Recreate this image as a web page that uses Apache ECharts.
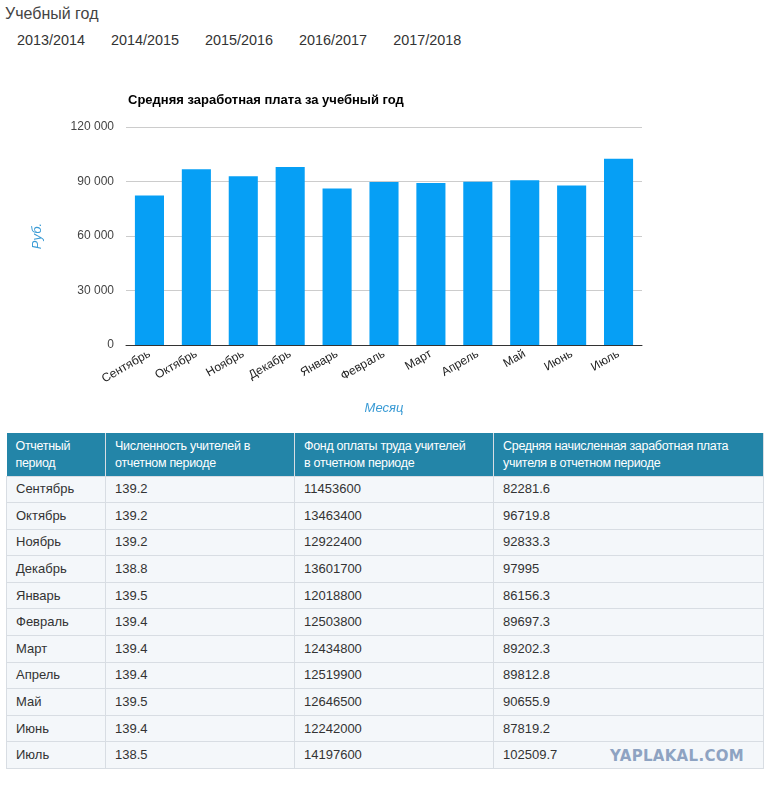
<!DOCTYPE html>
<html><head><meta charset="utf-8">
<script src="https://cdn.jsdelivr.net/npm/echarts@6/dist/echarts.min.js"></script>
<style>
html,body{margin:0;padding:0;background:#fff;font-family:"Liberation Sans",Arial,sans-serif;}
#page{position:relative;width:773px;height:786px;overflow:hidden;}
#hdr{position:absolute;left:5px;top:5px;font-size:16px;color:#444;}
#tabs{position:absolute;left:17px;top:32px;font-size:14.4px;color:#333;white-space:nowrap;}
#tabs span{display:inline-block;margin-right:26px;}
#chart{position:absolute;left:0;top:60px;width:773px;height:360px;}
table{position:absolute;left:6px;top:433px;width:757px;border-collapse:collapse;table-layout:fixed;}
th{background:#2385a8;color:#fff;font-family:"Liberation Sans",Arial,sans-serif;font-weight:normal;font-size:12.5px;letter-spacing:-0.3px;text-align:left;vertical-align:top;padding:5px 6px 0 9px;height:38px;line-height:17px;white-space:nowrap;border-right:1px solid #d8dde3;box-sizing:border-box;}
td{background:#f4f7fa;color:#333;font-size:13px;padding:0 9px 0 9px;height:26.6px;line-height:14px;border:1px solid #d8dde3;box-sizing:border-box;}
#wm{position:absolute;left:606px;top:747px;font-family:"DejaVu Sans",Arial,sans-serif;font-weight:bold;font-size:15px;color:#8ea3c2;letter-spacing:0.3px;background:#f4f7fa;padding:0 4px;}
</style></head>
<body><div id="page">
<div id="hdr">Учебный год</div>
<div id="tabs"></div>
<div id="chart"></div>
<table id="tbl"></table>
<div id="wm">YAPLAKAL.COM</div>
</div>
<script>
const years = ['2013/2014','2014/2015','2015/2016','2016/2017','2017/2018'];
const months = ['Сентябрь','Октябрь','Ноябрь','Декабрь','Январь','Февраль','Март','Апрель','Май','Июнь','Июль'];
const teachers = ['139.2','139.2','139.2','138.8','139.5','139.4','139.4','139.4','139.5','139.4','138.5'];
const fund = ['11453600','13463400','12922400','13601700','12018800','12503800','12434800','12519900','12646500','12242000','14197600'];
const avgSalary = [82281.6, 96719.8, 92833.3, 97995, 86156.3, 89697.3, 89202.3, 89812.8, 90655.9, 87819.2, 102509.7];
const headerLines = [['Отчетный','период'],['Численность учителей в','отчетном периоде'],['Фонд оплаты труда учителей','в отчетном периоде'],['Средняя начисленная заработная плата','учителя в отчетном периоде']];
const colWidths = [99,189,199,270];

document.getElementById('tabs').innerHTML = years.map(y=>'<span>'+y+'</span>').join('');
let html = '<colgroup>'+colWidths.map(w=>'<col style="width:'+w+'px">').join('')+'</colgroup><tr style="height:43px">'+headerLines.map(h=>'<th>'+h.join('<br>')+'</th>').join('')+'</tr>';
months.forEach((m,i)=>{ html += '<tr><td>'+m+'</td><td>'+teachers[i]+'</td><td>'+fund[i]+'</td><td>'+avgSalary[i]+'</td></tr>'; });
document.getElementById('tbl').innerHTML = html;

const chart = echarts.init(document.getElementById('chart'));
chart.setOption({
  animation:false,
  textStyle:{fontFamily:'"Liberation Sans", Arial, sans-serif'},
  title:{text:'Средняя заработная плата за учебный год',left:123,top:29,textStyle:{fontSize:13,fontWeight:'bold',color:'#000'}},
  grid:{left:126,right:131,top:67,bottom:70},
  xAxis:{type:'category',data:months,
    axisLine:{lineStyle:{color:'#333'}},axisTick:{show:false},
    axisLabel:{rotate:30,fontSize:12,color:'#222',margin:8,interval:0},
    name:'Месяц',nameLocation:'middle',nameGap:57,
    nameTextStyle:{color:'#3a9bd5',fontStyle:'italic',fontSize:13}},
  yAxis:{type:'value',min:0,max:120000,interval:30000,
    axisLine:{show:false},axisTick:{show:false},
    axisLabel:{fontSize:12,color:'#444',margin:12,formatter:v=>String(v).replace(/\B(?=(\d{3})+(?!\d))/g,' ')},
    splitLine:{lineStyle:{color:'#ccc'}},
    name:'Руб.',nameLocation:'middle',nameGap:82,nameRotate:90,
    nameTextStyle:{color:'#3a9bd5',fontStyle:'italic',fontSize:13}},
  series:[{type:'bar',data:avgSalary,barWidth:'62%',itemStyle:{color:'#069ff5'}}]
});
</script>
</body></html>
